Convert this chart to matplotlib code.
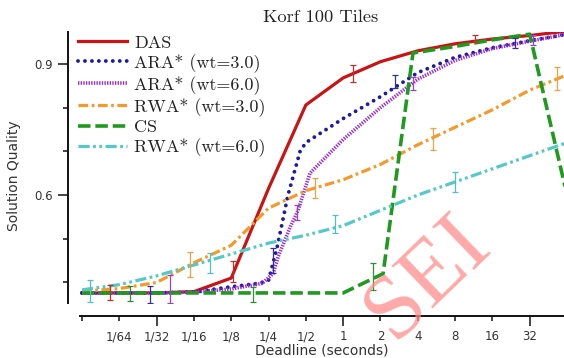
import matplotlib
matplotlib.use("Agg")
import matplotlib.pyplot as plt
from matplotlib.ticker import FixedLocator, FixedFormatter

plt.rcParams['lines.scale_dashes'] = False

# ---------------- data ----------------
title = "Korf 100 Tiles"
xlabel = "Deadline (seconds)"
ylabel = "Solution Quality"
watermark = "SEI"

grid_x = [1/128, 1/64, 1/32, 1/16, 1/8, 1/4, 1/2, 1, 2, 4, 8, 16, 32, 64]

das_x = grid_x
das_y = [0.376, 0.376, 0.376, 0.379, 0.41, 0.615, 0.806, 0.868, 0.905, 0.93, 0.946, 0.957, 0.965, 0.975]

ara3_x = [1/128, 1/64, 1/32, 1/16, 1/8, 0.21, 0.25, 0.293, 0.359, 0.449, 1/2, 1, 2, 4, 8, 16, 32, 64]
ara3_y = [0.376, 0.376, 0.376, 0.378, 0.39, 0.398, 0.405, 0.48, 0.60, 0.70, 0.72, 0.775, 0.825, 0.88, 0.915, 0.937, 0.953, 0.968]

ara6_x = [1/128, 1/64, 1/32, 1/16, 1/8, 0.222, 0.272, 0.30, 0.374, 0.43, 0.54, 1, 2, 4, 8, 16, 32, 64]
ara6_y = [0.376, 0.376, 0.376, 0.378, 0.385, 0.398, 0.42, 0.46, 0.527, 0.563, 0.65, 0.727, 0.80, 0.865, 0.908, 0.935, 0.952, 0.968]

rwa3_x = grid_x
rwa3_y = [0.38, 0.386, 0.40, 0.445, 0.485, 0.57, 0.61, 0.635, 0.67, 0.715, 0.755, 0.795, 0.84, 0.875]

cs_x = [1/128, 1/64, 1/32, 1/16, 1/8, 1/4, 1/2, 1, 2.1, 3.66, 8, 16, 32, 64]
cs_y = [0.376, 0.376, 0.376, 0.376, 0.376, 0.376, 0.376, 0.376, 0.42, 0.925, 0.94, 0.955, 0.968, 0.60]

rwa6_x = grid_x
rwa6_y = [0.383, 0.395, 0.415, 0.44, 0.465, 0.49, 0.508, 0.53, 0.565, 0.60, 0.63, 0.66, 0.69, 0.72]

# error bars (x, centre, half-width)
das_ex = [0.0131, 0.129, 1.21, 11.6]
das_ey = [0.378, 0.425, 0.878, 0.958]
das_ee = [0.017, 0.025, 0.019, 0.008]

ara3_ex = [0.0276, 0.272, 2.62, 24.4]
ara3_ey = [0.372, 0.45, 0.86, 0.948]
ara3_ee = [0.02, 0.028, 0.015, 0.011]

ara6_ex = [0.0401, 0.423, 3.66, 34.1]
ara6_ey = [0.385, 0.56, 0.855, 0.955]
ara6_ee = [0.032, 0.017, 0.015, 0.011]

rwa3_ex = [0.0583, 0.595, 5.31, 53.1]
rwa3_ey = [0.441, 0.616, 0.728, 0.867]
rwa3_ee = [0.029, 0.023, 0.025, 0.027]

cs_ex = [0.0191, 0.187, 1.74]
cs_ey = [0.375, 0.373, 0.414]
cs_ee = [0.018, 0.017, 0.031]

rwa6_ex = [0.009, 0.0842, 0.859, 8.0]
rwa6_ey = [0.380, 0.445, 0.534, 0.63]
rwa6_ee = [0.025, 0.023, 0.02, 0.023]

labels = ["DAS", "ARA* (wt=3.0)", "ARA* (wt=6.0)", "RWA* (wt=3.0)", "CS", "RWA* (wt=6.0)"]

x_major = [1/32, 1, 32]
x_major_labels = ["1/32", "1", "32"]
x_minor = [1/128, 1/64, 1/16, 1/8, 1/4, 1/2, 2, 4, 8, 16]
x_minor_labels = ["", "1/64", "1/16", "1/8", "1/4", "1/2", "2", "4", "8", "16"]
y_major = [0.6, 0.9]
y_major_labels = ["0.6", "0.9"]
y_minor = [0.4, 0.5, 0.7, 0.8]

# ---------------- styles ----------------
W, H = 564, 358
fig = plt.figure(figsize=(W / 100, H / 100), dpi=100)
ax = fig.add_axes([80 / W, (H - 303) / H, 484 / W, 271 / H])

styles = [
    dict(color="#c81414", lw=2.3, ls="-"),
    dict(color="#1c1c9c", lw=2.8, ls=(0, (0.01, 5.0)), dash_capstyle="round"),
    dict(color="#9a30d0", lw=2.6, ls=(0, (1.0, 0.9))),
    dict(color="#f59a2a", lw=2.3, ls=(0, (7, 2.5, 2, 2.5))),
    dict(color="#1f9a1f", lw=2.6, ls=(0, (9, 3.5))),
    dict(color="#55c8c8", lw=2.3, ls=(0, (8, 2.5, 2, 2.5, 2, 2.5))),
]
err_colors = ["#c03030", "#3030a0", "#9a40d0", "#f0a040", "#309030", "#50c0c0"]

series = [
    (das_x, das_y, das_ex, das_ey, das_ee),
    (ara3_x, ara3_y, ara3_ex, ara3_ey, ara3_ee),
    (ara6_x, ara6_y, ara6_ex, ara6_ey, ara6_ee),
    (rwa3_x, rwa3_y, rwa3_ex, rwa3_ey, rwa3_ee),
    (cs_x, cs_y, cs_ex, cs_ey, cs_ee),
    (rwa6_x, rwa6_y, rwa6_ex, rwa6_ey, rwa6_ee),
]

handles = []
for (xs, ys, ex, ey, ee), st, ec, lab in zip(series, styles, err_colors, labels):
    h, = ax.plot(xs, ys, label=lab, **st)
    handles.append(h)
    ax.errorbar(ex, ey, yerr=ee, fmt="none", ecolor=ec, elinewidth=0.9,
                capsize=2.5, capthick=0.9, zorder=3)

ax.set_xscale("log", base=2)
ax.set_xlim(2 ** -7.054, 2 ** 5.92)
ax.set_ylim(0.353, 0.973)

for s in ["top", "right"]:
    ax.spines[s].set_visible(False)
ax.spines["left"].set_position(("outward", 8.6))
ax.spines["bottom"].set_position(("outward", 9.4))
for s in ["left", "bottom"]:
    ax.spines[s].set_linewidth(1.4)
    ax.spines[s].set_color("#111111")

ax.xaxis.set_major_locator(FixedLocator(x_major))
ax.xaxis.set_major_formatter(FixedFormatter(x_major_labels))
ax.xaxis.set_minor_locator(FixedLocator(x_minor))
ax.xaxis.set_minor_formatter(FixedFormatter(x_minor_labels))
ax.yaxis.set_major_locator(FixedLocator(y_major))
ax.yaxis.set_major_formatter(FixedFormatter(y_major_labels))
ax.yaxis.set_minor_locator(FixedLocator(y_minor))
ax.yaxis.set_minor_formatter(FixedFormatter([""] * len(y_minor)))

ax.tick_params(axis="x", which="major", length=7.2, width=1.1, pad=3.2, labelsize=8.5,
               labelcolor="#333333", color="#111111")
ax.tick_params(axis="x", which="minor", length=3.6, width=1.1, pad=6.8, labelsize=8.5,
               labelcolor="#333333", color="#111111")
ax.tick_params(axis="y", which="major", length=7.2, width=1.1, pad=4, labelsize=8.5,
               labelcolor="#333333", color="#111111")
ax.tick_params(axis="y", which="minor", length=3.6, width=1.1, color="#111111")

ax.set_xlabel(xlabel, fontsize=10, color="#333333")
ax.xaxis.set_label_coords(0.5, (303 - 343) / 271)
ax.set_ylabel(ylabel, fontsize=10, color="#333333")
ax.yaxis.set_label_coords((21 - 80) / 484, 0.47)

fig.text(321 / W, 1 - 17 / H, title, ha="center", va="center",
         family="cmr10", fontsize=13.3, color="#222222")

leg = ax.legend(handles=handles, loc="upper left",
                bbox_to_anchor=(78 / W, 1 - 35 / H), bbox_transform=fig.transFigure,
                frameon=False, borderpad=0, borderaxespad=0,
                handlelength=2.7, handletextpad=0.42, labelspacing=0.18,
                prop=dict(family="cmr10", size=13))
for t in leg.get_texts():
    t.set_color("#222222")

# watermark (kept inside the figure)
fig.text(350 / W, 3 / H, watermark, rotation=44, fontsize=66, color="#ff8c8c",
         alpha=0.75, family="Liberation Serif", ha="left", va="bottom", zorder=20)

fig.savefig("out.png", dpi=100)
